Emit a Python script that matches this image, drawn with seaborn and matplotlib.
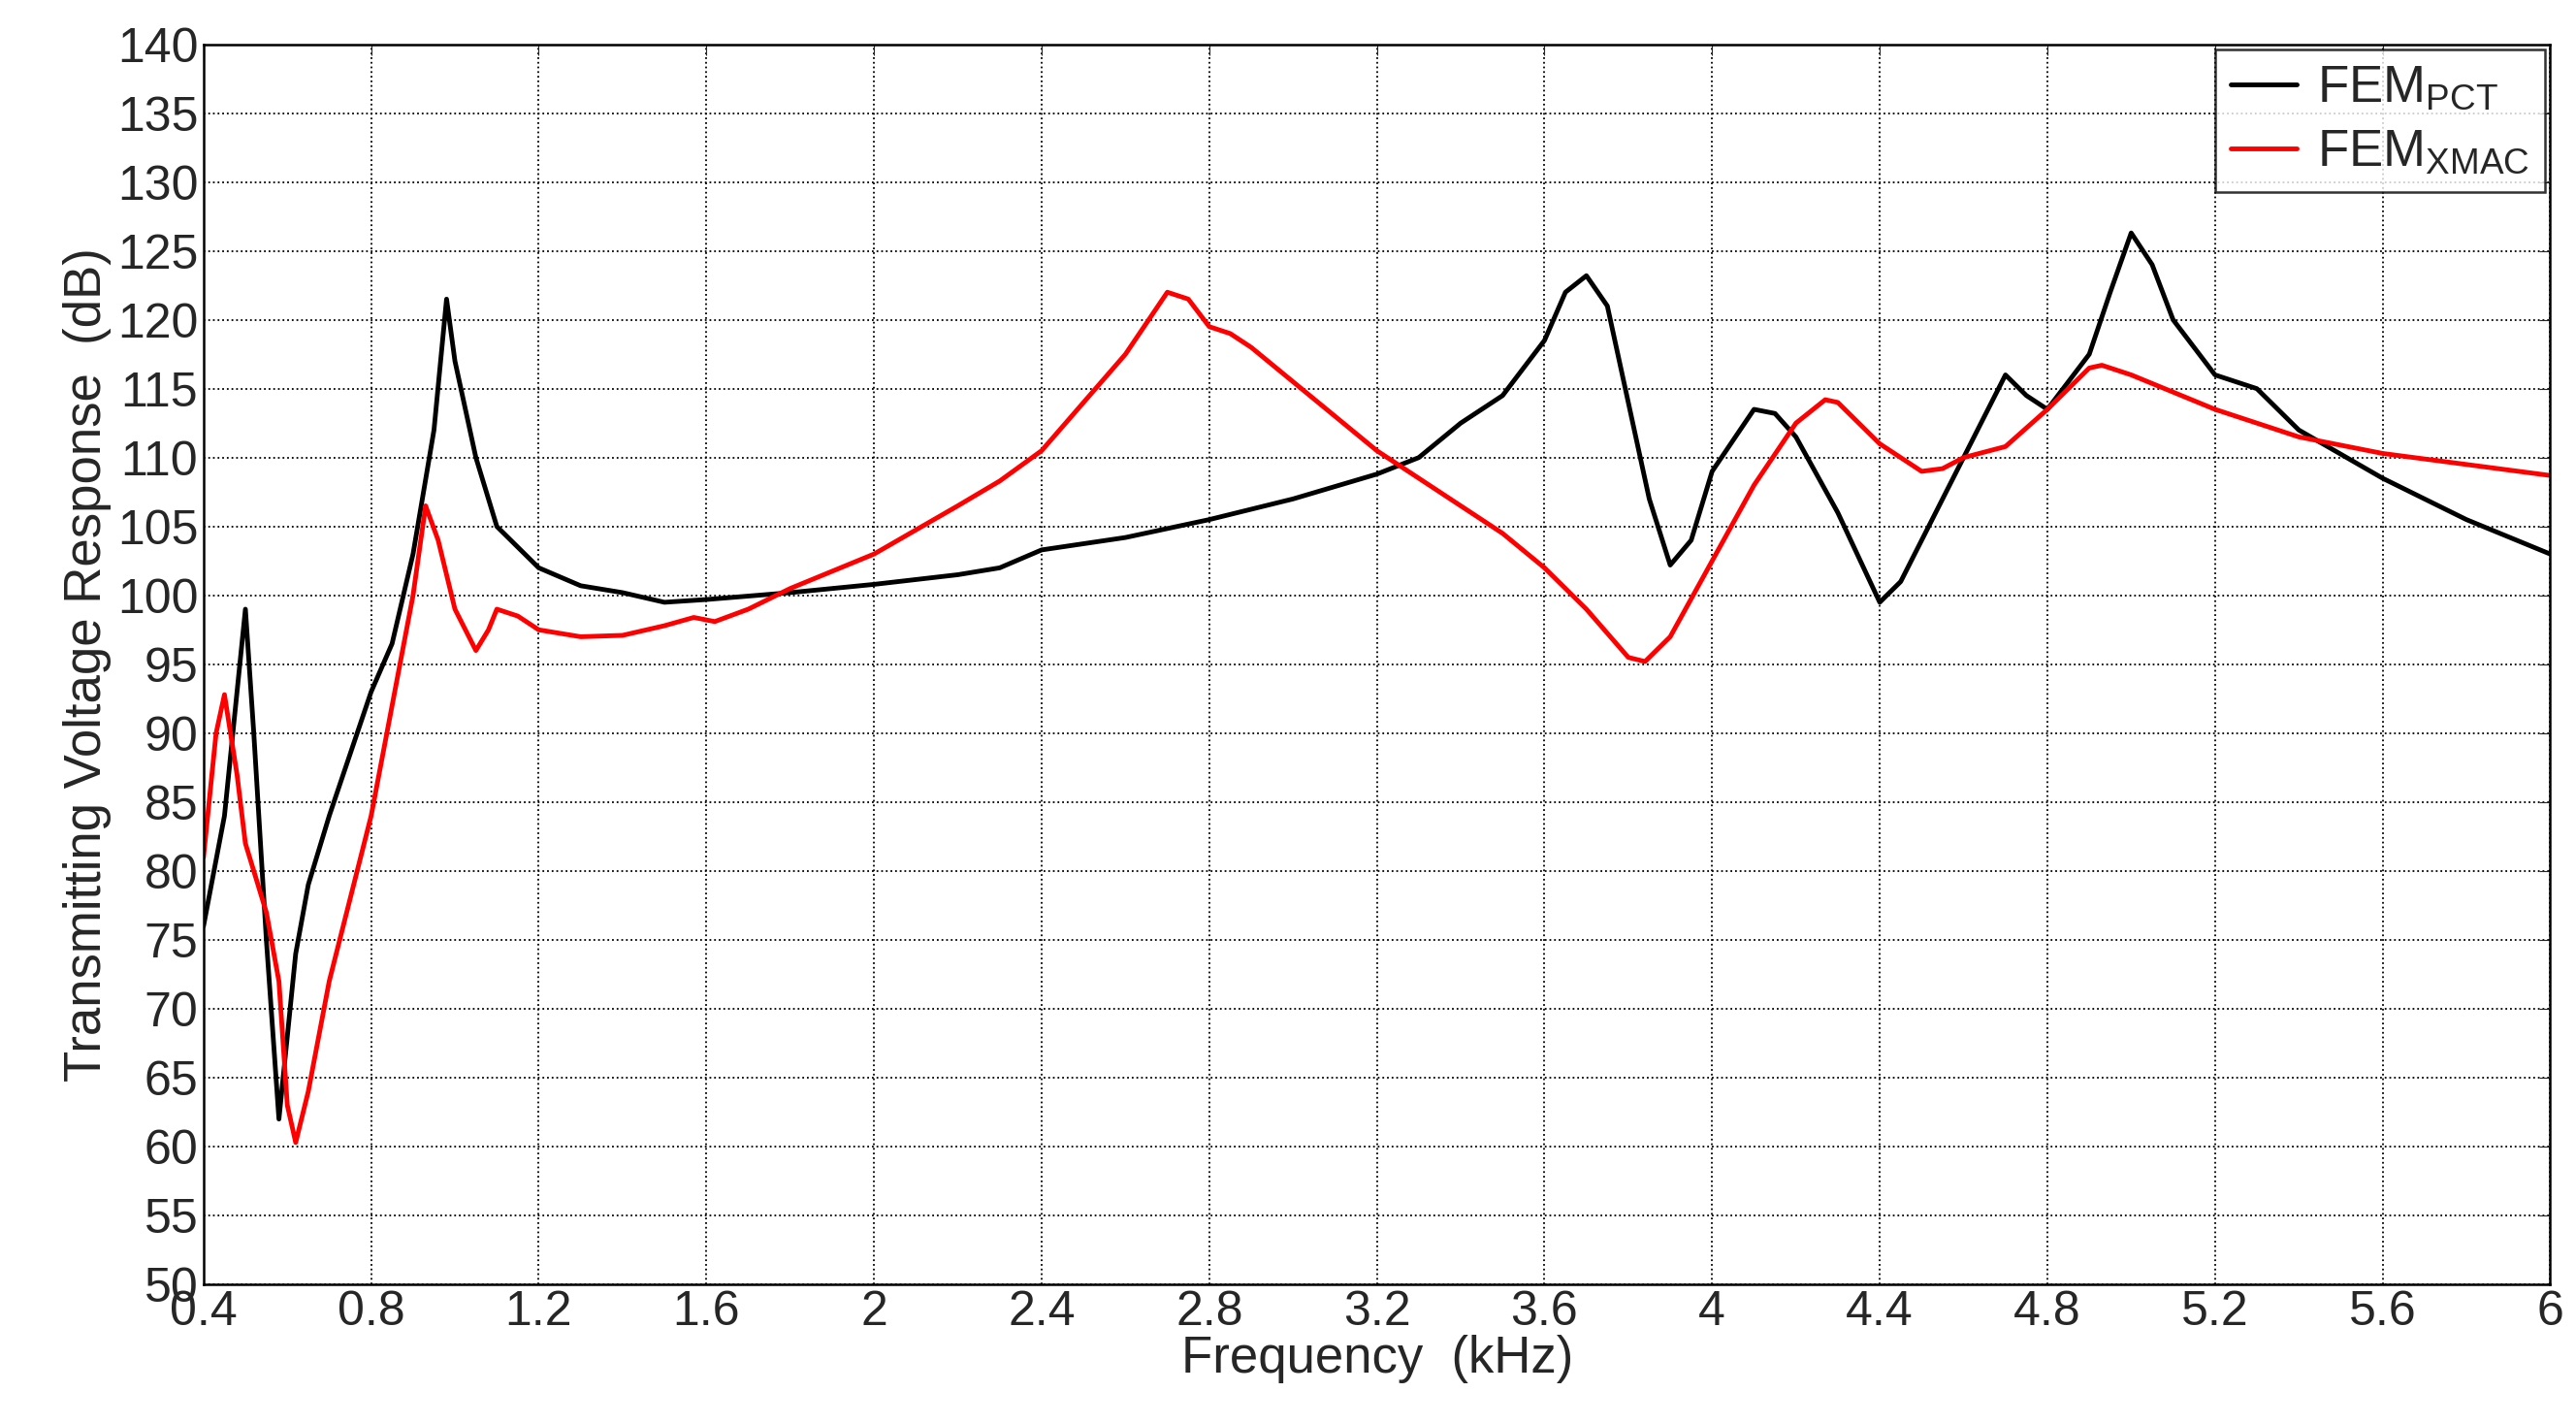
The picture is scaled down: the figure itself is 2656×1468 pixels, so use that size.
import matplotlib
matplotlib.use("Agg")
import matplotlib.pyplot as plt
import seaborn as sns
import numpy as np

# FEM PCT (black)
freq_pct = [0.4, 0.45, 0.5, 0.52, 0.55, 0.58, 0.6, 0.62, 0.65, 0.7, 0.8, 0.85, 0.9, 0.95, 0.98,
            1.0, 1.05, 1.1, 1.2, 1.3, 1.4, 1.5, 1.6, 1.8, 2.0, 2.2, 2.3, 2.4, 2.6, 2.8, 3.0,
            3.2, 3.3, 3.4, 3.5, 3.6, 3.65, 3.7, 3.75, 3.8, 3.85, 3.9, 3.95, 4.0, 4.1, 4.15,
            4.2, 4.3, 4.4, 4.45, 4.5, 4.6, 4.7, 4.75, 4.8, 4.9, 4.95, 5.0, 5.05, 5.1, 5.2,
            5.3, 5.4, 5.6, 5.8, 6.0]
tvr_pct = [76, 84, 99, 90, 75, 62, 68, 74, 79, 84, 93, 96.5, 103, 112, 121.5,
           117, 110, 105, 102, 100.7, 100.2, 99.5, 99.7, 100.2, 100.8, 101.5, 102, 103.3, 104.2, 105.5, 107,
           108.8, 110, 112.5, 114.5, 118.5, 122, 123.2, 121, 114, 107, 102.2, 104, 109, 113.5, 113.2,
           111.5, 106, 99.5, 101, 104, 110, 116, 114.5, 113.5, 117.5, 122, 126.3, 124, 120, 116,
           115, 112, 108.5, 105.5, 103]

# FEM XMAC (red)
freq_xmac = [0.4, 0.43, 0.45, 0.48, 0.5, 0.55, 0.58, 0.6, 0.62, 0.65, 0.7, 0.8, 0.85, 0.9, 0.93,
             0.96, 1.0, 1.05, 1.08, 1.1, 1.15, 1.2, 1.3, 1.4, 1.5, 1.57, 1.62, 1.7, 1.8, 2.0,
             2.2, 2.3, 2.4, 2.5, 2.6, 2.7, 2.75, 2.8, 2.85, 2.9, 3.0, 3.1, 3.2, 3.3, 3.4, 3.5,
             3.6, 3.7, 3.8, 3.84, 3.9, 4.0, 4.1, 4.2, 4.27, 4.3, 4.4, 4.5, 4.55, 4.6, 4.7, 4.8,
             4.9, 4.93, 5.0, 5.2, 5.4, 5.6, 5.8, 6.0]
tvr_xmac = [81, 90, 92.8, 87, 82, 77, 72, 63, 60.3, 64, 72, 84, 92, 100, 106.5,
            104, 99, 96, 97.5, 99, 98.5, 97.5, 97, 97.1, 97.8, 98.4, 98.1, 99, 100.5, 103,
            106.5, 108.3, 110.5, 114, 117.5, 122, 121.5, 119.5, 119, 118, 115.5, 113, 110.5, 108.5, 106.5, 104.5,
            102, 99, 95.5, 95.2, 97, 102.5, 108, 112.5, 114.2, 114, 111, 109, 109.2, 110, 110.8, 113.5,
            116.5, 116.7, 116, 113.5, 111.5, 110.3, 109.5, 108.7]

sns.set_style("white")
plt.rcParams['font.family'] = ['Liberation Sans', 'DejaVu Sans']

fig, ax = plt.subplots(figsize=(26.56, 14.68), dpi=100)
fig.subplots_adjust(left=0.079, right=0.99, top=0.969, bottom=0.098)

sns.lineplot(x=freq_pct, y=tvr_pct, ax=ax, color='black', lw=3.5, sort=False,
             label=r'FEM$_{\mathregular{PCT}}$')
sns.lineplot(x=freq_xmac, y=tvr_xmac, ax=ax, color='red', lw=3.5, sort=False,
             label=r'FEM$_{\mathregular{XMAC}}$')

ax.set_xlim(0.4, 6)
ax.set_ylim(50, 140)
xt = np.arange(0.4, 6.01, 0.4)
ax.set_xticks(xt)
ax.set_xticklabels([f"{v:g}" for v in np.round(xt, 1)])
ax.set_yticks(np.arange(50, 141, 5))
ax.tick_params(labelsize=36, direction='in', length=8, top=True, right=True, pad=4)
ax.grid(True, color='black', linestyle=':', lw=1.3)
for s in ax.spines.values():
    s.set_color('black')
    s.set_linewidth(1.8)
ax.set_xlabel('Frequency  (kHz)', fontsize=38, labelpad=0)
ax.set_ylabel('Transmitting Voltage Response  (dB)', fontsize=38, labelpad=4)

leg = ax.legend(loc='upper right', fontsize=38, frameon=True, fancybox=False,
                edgecolor='black', handlelength=1.3, handletextpad=0.4,
                borderaxespad=0.1, borderpad=0.3, labelspacing=0.3)
leg.get_frame().set_linewidth(1.8)

fig.savefig('out.png', dpi=100)
